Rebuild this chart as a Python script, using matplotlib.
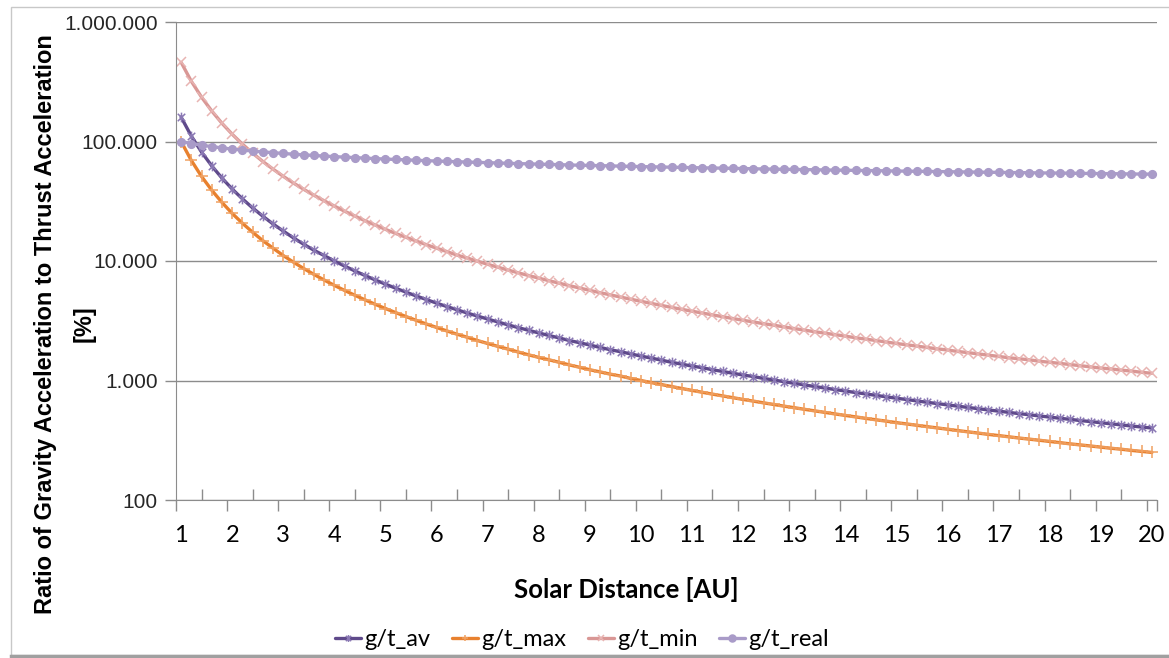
import matplotlib
matplotlib.use("Agg")
import matplotlib.pyplot as plt
from matplotlib.path import Path
from matplotlib.ticker import FixedLocator, FuncFormatter, NullFormatter
from matplotlib.patches import Rectangle
from matplotlib.lines import Line2D

# Solar distance [AU]
distancia = [
    1.0, 1.2, 1.4, 1.6, 1.8, 2.0, 2.2, 2.4, 2.6, 2.8, 3.0, 3.2, 3.4, 3.6, 3.8, 4.0,
    4.2, 4.4, 4.6, 4.8, 5.0, 5.2, 5.4, 5.6, 5.8, 6.0, 6.2, 6.4, 6.6, 6.8, 7.0, 7.2,
    7.4, 7.6, 7.8, 8.0, 8.2, 8.4, 8.6, 8.8, 9.0, 9.2, 9.4, 9.6, 9.8, 10.0, 10.2, 10.4,
    10.6, 10.8, 11.0, 11.2, 11.4, 11.6, 11.8, 12.0, 12.2, 12.4, 12.6, 12.8, 13.0, 13.2,
    13.4, 13.6, 13.8, 14.0, 14.2, 14.4, 14.6, 14.8, 15.0, 15.2, 15.4, 15.6, 15.8, 16.0,
    16.2, 16.4, 16.6, 16.8, 17.0, 17.2, 17.4, 17.6, 17.8, 18.0, 18.2, 18.4, 18.6, 18.8,
    19.0, 19.2, 19.4, 19.6, 19.8, 20.0,
]

gt_av = [
    160000, 111000, 81600, 62500, 49400, 40000, 33100, 27800, 23700, 20400, 17800, 15600,
    13800, 12300, 11100, 10000, 9070, 8260, 7560, 6940, 6400, 5920, 5490, 5100,
    4760, 4440, 4160, 3910, 3670, 3460, 3270, 3090, 2920, 2770, 2630, 2500,
    2380, 2270, 2160, 2070, 1980, 1890, 1810, 1740, 1670, 1600, 1540, 1480,
    1420, 1370, 1320, 1280, 1230, 1190, 1150, 1110, 1080, 1040, 1010, 977,
    947, 918, 891, 865, 840, 816, 793, 772, 751, 730, 711, 693,
    675, 657, 641, 625, 610, 595, 581, 567, 554, 541, 528, 517,
    505, 494, 483, 473, 462, 453, 443, 434, 425, 416, 408, 400,
]

gt_max = [
    100000, 69400, 51000, 39100, 30900, 25000, 20700, 17400, 14800, 12800, 11100, 9770,
    8650, 7720, 6930, 6250, 5670, 5170, 4730, 4340, 4000, 3700, 3430, 3190,
    2970, 2780, 2600, 2440, 2300, 2160, 2040, 1930, 1830, 1730, 1640, 1560,
    1490, 1420, 1350, 1290, 1230, 1180, 1130, 1090, 1040, 1000, 961, 925,
    890, 857, 826, 797, 769, 743, 718, 694, 672, 650, 630, 610,
    592, 574, 557, 541, 525, 510, 496, 482, 469, 457, 444, 433,
    422, 411, 401, 391, 381, 372, 363, 354, 346, 338, 330, 323,
    316, 309, 302, 295, 289, 283, 277, 271, 266, 260, 255, 250,
]

gt_min = [
    460000, 319000, 235000, 180000, 142000, 115000, 95000, 79900, 68000, 58700, 51100, 44900,
    39800, 35500, 31900, 28800, 26100, 23800, 21700, 20000, 18400, 17000, 15800, 14700,
    13700, 12800, 12000, 11200, 10600, 9950, 9390, 8870, 8400, 7960, 7560, 7190,
    6840, 6520, 6220, 5940, 5680, 5430, 5210, 4990, 4790, 4600, 4420, 4250,
    4090, 3940, 3800, 3670, 3540, 3420, 3300, 3190, 3090, 2990, 2900, 2810,
    2720, 2640, 2560, 2490, 2420, 2350, 2280, 2220, 2160, 2100, 2040, 1990,
    1940, 1890, 1840, 1800, 1750, 1710, 1670, 1630, 1590, 1550, 1520, 1490,
    1450, 1420, 1390, 1360, 1330, 1300, 1270, 1250, 1220, 1200, 1170, 1150,
]

gt_real = [
    100000, 96200, 93200, 90600, 88400, 86400, 84700, 83200, 81800, 80600, 79400, 78300,
    77300, 76400, 75500, 74700, 74000, 73300, 72600, 71900, 71300, 70700, 70200, 69600,
    69100, 68600, 68200, 67700, 67300, 66900, 66500, 66100, 65700, 65300, 65000, 64600,
    64300, 64000, 63600, 63300, 63000, 62800, 62500, 62200, 61900, 61700, 61400, 61200,
    60900, 60700, 60400, 60200, 60000, 59800, 59600, 59400, 59100, 58900, 58700, 58500,
    58400, 58200, 58000, 57800, 57600, 57500, 57300, 57100, 57000, 56800, 56600, 56500,
    56300, 56200, 56000, 55900, 55700, 55600, 55400, 55300, 55200, 55000, 54900, 54800,
    54600, 54500, 54400, 54300, 54100, 54000, 53900, 53800, 53700, 53500, 53400, 53300,
]

etiquetas_x = list(range(1, 21))
ticks_y = [100, 1000, 10000, 100000, 1000000]

# marcador tipo "star" de Excel (x con linea vertical)
estrella = Path(
    [(-1, -1), (1, 1), (-1, 1), (1, -1), (0, -1.3), (0, 1.3)],
    [Path.MOVETO, Path.LINETO, Path.MOVETO, Path.LINETO, Path.MOVETO, Path.LINETO],
)

series = [
    ("g/t_av", gt_av, "#5f4a8b", "#8a78b4", estrella, 7),
    ("g/t_max", gt_max, "#e8812f", "#f0a060", "+", 8),
    ("g/t_min", gt_min, "#d99795", "#e8b4b2", "x", 7),
    ("g/t_real", gt_real, "#a99bc8", "#a99bc8", "o", 5.5),
]

fig = plt.figure(figsize=(11.69, 6.58), dpi=100)
ax = fig.add_axes([176 / 1169, 1 - 500 / 658, (1157 - 176) / 1169, (500 - 22) / 658])

for nombre, valores, color, color_marca, marca, tam in series:
    ax.plot(distancia, valores, color=color, lw=2.4, marker=marca, markersize=tam,
            markeredgecolor=color_marca, markerfacecolor=color_marca,
            markeredgewidth=1.1, label=nombre, solid_capstyle="round")

ax.set_yscale("log")
ax.set_ylim(100, 1000000)
ax.set_xlim(0.9, 20.1)

ax.yaxis.set_major_locator(FixedLocator(ticks_y))
ax.yaxis.set_minor_locator(FixedLocator([]))
ax.yaxis.set_major_formatter(FuncFormatter(lambda v, p: f"{int(round(v)):,}".replace(",", ".")))
ax.tick_params(axis="y", which="major", length=8, width=1, color="#8c8c8c", pad=5,
               labelsize=15, labelcolor="#262626")
for lab in ax.get_yticklabels():
    lab.set_family("Liberation Sans")
ax.grid(axis="y", color="#8c8c8c", lw=1)
ax.set_axisbelow(True)

# marcas del eje x: entre categorias (abajo) y a mitad (arriba)
ax.xaxis.set_major_locator(FixedLocator([v - 0.1 for v in etiquetas_x] + [20.1]))
ax.xaxis.set_major_formatter(NullFormatter())
ax.xaxis.set_minor_locator(FixedLocator([v + 0.4 for v in etiquetas_x[:-1]]))
ax.tick_params(axis="x", which="major", direction="out", length=8, width=1, color="#8c8c8c")
ax.tick_params(axis="x", which="minor", direction="in", length=8, width=1, color="#8c8c8c")

sec = ax.secondary_xaxis("bottom")
sec.set_xticks(etiquetas_x)
sec.tick_params(length=0, pad=18, labelsize=17)
for lab in sec.get_xticklabels():
    lab.set_family("Lato")
sec.spines["bottom"].set_visible(False)

for s in ["top", "right"]:
    ax.spines[s].set_visible(False)
ax.spines["left"].set_color("#8c8c8c")
ax.spines["bottom"].set_color("#8c8c8c")

fig.text(626 / 1169, 1 - 590 / 658, "Solar Distance [AU]", ha="center", va="center",
         fontsize=18.5, fontweight="bold", family="Lato")
fig.text(46 / 1169, 1 - 324 / 658, "Ratio of Gravity Acceleration to Thrust Acceleration",
         rotation=90, ha="center", va="center", fontsize=17, fontweight="bold",
         family="Liberation Sans")
fig.text(84 / 1169, 1 - 324 / 658, "[%]", rotation=90, ha="center", va="center",
         fontsize=17, fontweight="bold", family="Liberation Sans")

leg = fig.legend(loc="center", bbox_to_anchor=(582 / 1169, 1 - 640 / 658), ncol=4,
                 frameon=False, handlelength=1.1, handletextpad=0.15,
                 columnspacing=0.9, prop={"family": "Lato", "size": 17})
for h in leg.legend_handles:
    h.set_markersize(5)

# marco del grafico
fig.patches.append(Rectangle((11 / 1169, 1 - 655 / 658), 1.1, (655 - 7) / 658,
                             transform=fig.transFigure, fill=False, edgecolor="#c8c8c8",
                             lw=1, zorder=0))
fig.lines.append(Line2D([11 / 1169, 1], [1 - 656 / 658] * 2, transform=fig.transFigure,
                        color="#a0a0a0", lw=2.5))

fig.savefig("out.png", dpi=100)
